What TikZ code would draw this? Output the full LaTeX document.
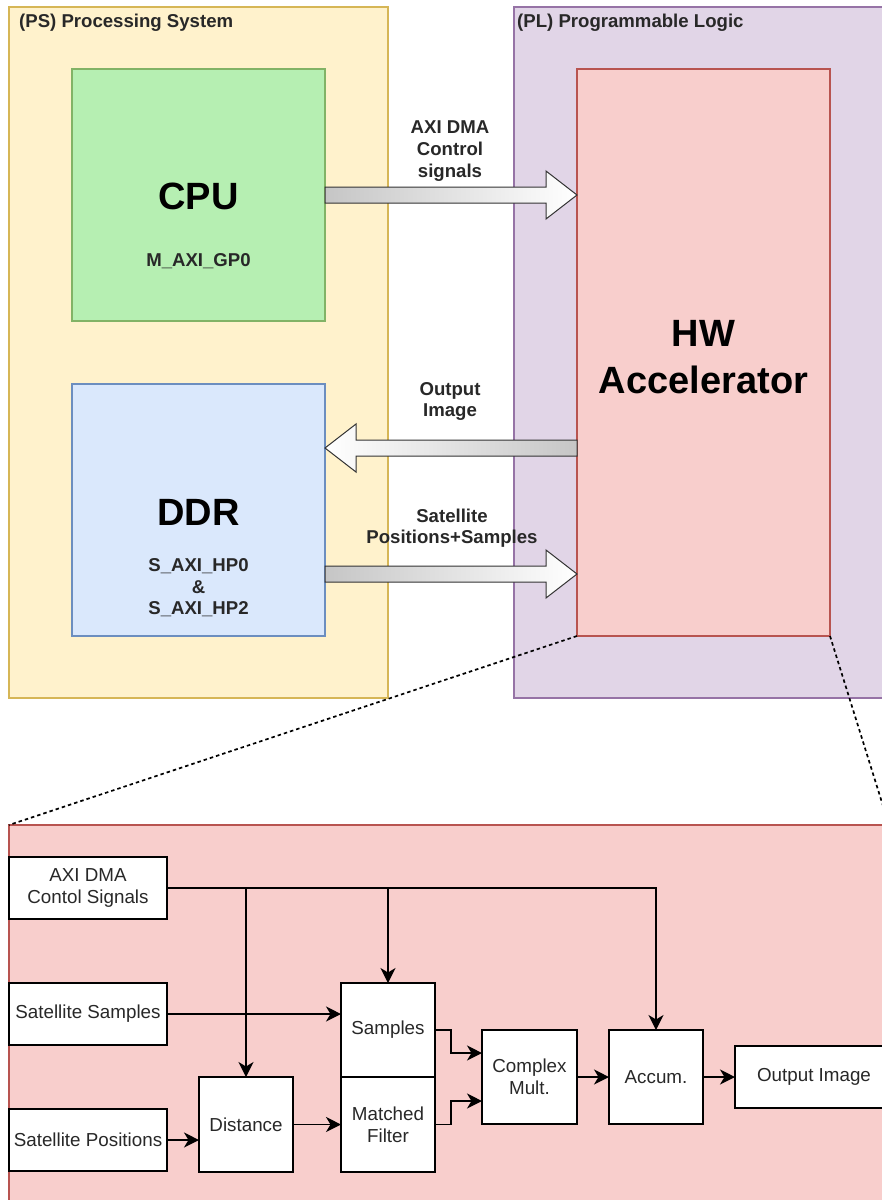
\documentclass[tikz,border=0pt]{standalone}
\usepackage{fontspec}
\setmainfont{Liberation Sans}
\usetikzlibrary{calc,arrows.meta}

\definecolor{psfill}{HTML}{FFF2CC}
\definecolor{psline}{HTML}{D6B656}
\definecolor{plfill}{HTML}{E1D5E7}
\definecolor{plline}{HTML}{9673A6}
\definecolor{cpufill}{RGB}{182,239,178}
\definecolor{cpuline}{HTML}{82B366}
\definecolor{ddrfill}{HTML}{DAE8FC}
\definecolor{ddrline}{HTML}{6C8EBF}
\definecolor{hwfill}{HTML}{F8CECC}
\definecolor{hwline}{HTML}{B85450}
\definecolor{txtgray}{RGB}{40,40,40}

\newcommand\btxt{\fontsize{18.6}{21.6}\selectfont\bfseries}
\newcommand\ntxt{\fontsize{18.8}{22}\selectfont}
\newcommand\hugetxt{\fontsize{38}{47}\selectfont\bfseries}

\begin{document}
\begin{tikzpicture}[x=1pt,y=-1pt,
  grp/.style={draw, line width=1.2pt, inner sep=0pt, outer sep=0pt},
  blk/.style={draw=black, fill=white, line width=1.5pt, inner sep=0pt, outer sep=0pt,
              font=\ntxt, text=txtgray, align=center},
  lbl/.style={font=\btxt, text=txtgray, align=center, inner sep=0pt},
  biglbl/.style={font=\hugetxt, text=black, align=center, inner sep=0pt},
  wire/.style={draw=black, line width=1.5pt},
  arr/.style={wire, -{Stealth[length=15pt,width=15pt,inset=4.5pt]}},
  barrow/.style={left color=gray!45, right color=white, draw=black!80, line width=1pt},
  barrowrev/.style={left color=white, right color=gray!45, draw=black!80, line width=1pt},
  zoomline/.style={draw=black, line width=1.7pt, dash pattern=on 3.5pt off 3pt}]

\useasboundingbox (0,0) rectangle (882,1200);
\begin{scope}
\clip (0,0) rectangle (882,1200);

% system partitions
\node[grp, fill=psfill, draw=psline, minimum width=379, minimum height=691] (ps) at (198.5,352.5) {};
\node[grp, fill=plfill, draw=plline, minimum width=378, minimum height=691] (pl) at (703,352.5) {};
\node[lbl, anchor=west] (pslbl) at (19,23) {(PS) Processing System};
\node[lbl, anchor=west] (pllbl) at (517,23) {(PL) Programmable Logic};

% blocks of the processing system and the accelerator
\node[grp, fill=cpufill, draw=cpuline, minimum width=253, minimum height=252] (cpu) at (198.5,195) {};
\node[grp, fill=ddrfill, draw=ddrline, minimum width=253, minimum height=252] (ddr) at (198.5,510) {};
\node[grp, fill=hwfill, draw=hwline, minimum width=253, minimum height=567] (hw) at (703.5,352.5) {};

\node[biglbl] (cputxt) at (198.5,196) {CPU};
\node[lbl] (cpuport) at (198.5,261) {M\_AXI\_GP0};
\node[biglbl] (ddrtxt) at (198.5,512) {DDR};
\node[lbl] (ddrport) at (198.5,588) {S\_AXI\_HP0\\\&\\S\_AXI\_HP2};
\node[biglbl] (hwtxt) at (703.5,357) {HW\\Accelerator};

% block arrows between PS and PL
\coordinate (a1s) at (cpu.east);
\coordinate (a1e) at (cpu.east -| hw.west);
\coordinate (a2s) at ($(hw.west |- ddr.east)+(0,-62)$);
\coordinate (a2e) at ($(ddr.east)+(0,-62)$);
\coordinate (a3s) at ($(ddr.east)+(0,64)$);
\coordinate (a3e) at (a3s -| hw.west);

\shade[barrow] ($(a1s)+(0,-8)$) -- ($(a1e)+(-31,-8)$) -- ($(a1e)+(-31,-24)$) -- (a1e)
  -- ($(a1e)+(-31,24)$) -- ($(a1e)+(-31,8)$) -- ($(a1s)+(0,8)$) -- cycle;
\shade[barrowrev] ($(a2s)+(0,-8)$) -- ($(a2e)+(31,-8)$) -- ($(a2e)+(31,-24)$) -- (a2e)
  -- ($(a2e)+(31,24)$) -- ($(a2e)+(31,8)$) -- ($(a2s)+(0,8)$) -- cycle;
\shade[barrow] ($(a3s)+(0,-8)$) -- ($(a3e)+(-31,-8)$) -- ($(a3e)+(-31,-24)$) -- (a3e)
  -- ($(a3e)+(-31,24)$) -- ($(a3e)+(-31,8)$) -- ($(a3s)+(0,8)$) -- cycle;

\node[lbl] (ctltxt) at (450,151) {AXI DMA\\Control\\signals};
\node[lbl] (outtxt) at (450,401.5) {Output\\Image};
\node[lbl] (sattxt) at (452,528) {Satellite\\Positions+Samples};

% detail of the accelerator
\node[grp, fill=hwfill, draw=hwline, minimum width=880, minimum height=390] (det) at (449,1020) {};
\draw[zoomline] (hw.south west) -- (det.north west);
\draw[zoomline] (hw.south east) -- (det.north east);

\node[blk, minimum width=158, minimum height=62] (ctl) at (88,888) {AXI DMA\\Contol Signals};
\node[blk, minimum width=158, minimum height=62] (ssamp) at (88,1014) {Satellite Samples};
\node[blk, minimum width=158, minimum height=62] (spos) at (88,1140) {Satellite Positions};
\node[blk, minimum width=94, minimum height=95] (dist) at (246,1124.5) {Distance};
\node[blk, minimum width=94, minimum height=94] (smp) at (388,1030) {Samples};
\node[blk, minimum width=94, minimum height=95] (mf) at (388,1124.5) {Matched\\Filter};
\node[blk, minimum width=95, minimum height=94] (cm) at (529.5,1077) {Complex\\Mult.};
\node[blk, minimum width=94, minimum height=94] (acc) at (656,1077) {Accum.};
\node[blk, minimum width=158, minimum height=62] (out) at (814,1077) {Output Image};

% data and control paths
\draw[arr] (ctl.east) -| (acc.north);
\draw[arr] (ctl.east -| dist.north) -- (dist.north);
\draw[arr] (ctl.east -| smp.north) -- (smp.north);
\draw[arr] (ssamp.east) -- (ssamp.east -| smp.west);
\draw[arr] (spos.east) -- (spos.east -| dist.west);
\draw[arr] (dist.east) -- (mf.west);
\draw[arr] (smp.east) -- ++(16,0) |- ($(cm.west)+(0,-24)$);
\draw[arr] (mf.east) -- ++(16,0) |- ($(cm.west)+(0,24)$);
\draw[arr] (cm.east) -- (acc.west);
\draw[arr] (acc.east) -- (out.west);
\end{scope}
\end{tikzpicture}
\end{document}
